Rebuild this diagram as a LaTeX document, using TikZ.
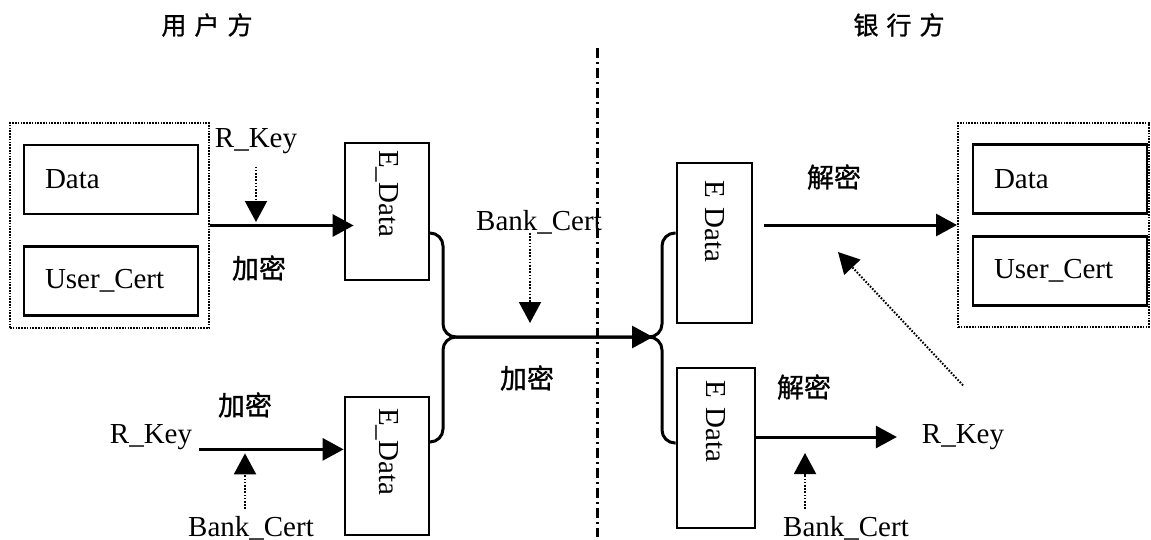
\documentclass[tikz,border=0pt]{standalone}
\usepackage{fontspec}
\setmainfont{Liberation Serif}
\newfontfamily\cjk[FakeBold=1]{Noto Sans CJK SC}
\usetikzlibrary{arrows.meta,calc}

\tikzset{
  box/.style={draw,line width=1.4pt,minimum width=87pt,minimum height=34.5pt,
    text width=66pt,inner xsep=10.5pt,align=left},
  grp/.style={draw,line width=1pt,dash pattern=on 0.8pt off 0.6pt},
  ebox/.style={draw,line width=1.4pt,rotate=-90,align=left},
  conn/.style={line width=1.5pt,rounded corners=6.5pt},
  flow/.style={line width=1.5pt,-{Triangle[length=10.5pt,width=11pt]}},
  hint/.style={line width=1pt,dash pattern=on 0.8pt off 0.8pt,
    -{Triangle[length=10.5pt,width=11pt]}},
  cn/.style={font=\cjk\fontsize{13.5}{16}\selectfont},
  head/.style={font=\cjk\fontsize{12.5}{15}\selectfont},
  divider/.style={line width=1.5pt,dash pattern=on 5pt off 2pt on 1pt off 2pt}
}

\begin{document}
\begin{tikzpicture}[x=0.5pt,y=-0.5pt,font=\fontsize{14.5}{17}\selectfont]
  \useasboundingbox (0,0) rectangle (1151,540);

  % headings and the border between the two sides
  \node[head] (uhead) at (207,25) {用\hspace{4pt}户\hspace{4pt}方};
  \node[head] (bhead) at (899,25) {银\hspace{4pt}行\hspace{4pt}方};
  \draw[divider] (597,48) -- (597,537);

  % user side
  \node[grp,minimum width=99.5pt,minimum height=102.5pt] (user) at (109.5,225.5) {};
  \node[box] (udata) at (111,179.5) {Data};
  \node[box] (ucert) at (111,281) {User\_Cert};
  \node[ebox,minimum height=42pt,inner xsep=3.5pt,text width=61.5pt] (ue1) at (387,211.5) {E\_Data};
  \node[ebox,minimum height=42pt,inner xsep=5.5pt,text width=58pt] (ue2) at (387,466) {E\_Data};
  \node (rk0) at (256,141) {R\_Key};
  \node[cn] (enc0) at (259,268) {加密};
  \node (rk1) at (151,437) {R\_Key};
  \node[cn] (enc1) at (245,405) {加密};
  \node (bc1) at (251,528) {Bank\_Cert};
  \node (bc0) at (539,222) {Bank\_Cert};
  \node[cn] (enc2) at (527,378) {加密};

  % bank side
  \node[grp,minimum width=95.5pt,minimum height=102pt] (bank) at (1053.5,225) {};
  \node[box] (bdata) at (1060,179) {Data};
  \node[box] (bcert) at (1060,271) {User\_Cert};
  \node[ebox,minimum height=37.5pt,inner xsep=8.5pt,text width=63pt] (be1) at (714.5,243) {E Data};
  \node[ebox,minimum height=39pt,inner xsep=6pt,text width=68pt] (be2) at (716,448) {E Data};
  \node[cn] (dec0) at (834,177) {解密};
  \node[cn] (dec1) at (804,387) {解密};
  \node (rk2) at (963,437) {R\_Key};
  \node (bc2) at (846,528) {Bank\_Cert};

  \coordinate (join) at (443,337);
  \coordinate (mid) at (653,337);
  \coordinate (fork) at (639,337);
  \coordinate (split) at (662,337);
  \coordinate (aim) at (838,252);
  \coordinate (k1) at ([yshift=-3pt]rk1.base east);

  % encrypt on the user side
  \draw[flow,shorten >=-5pt] (user.east) -- (ue1.south |- user.east);
  \draw[hint,shorten <=3pt,shorten >=1.75pt] (rk0.south) -- (rk0.south |- user.east);
  \draw[flow] (k1) -- (ue2.south |- k1);
  \draw[hint,shorten >=2pt] ([xshift=-3pt]bc1.north) -- ([xshift=-3pt]bc1.north |- k1);

  % send to the bank
  \draw[conn] ($(ue2.north)+(0,-24)$) -| (join) -- (mid);
  \draw[conn,flow] ($(ue1.north)+(0,21.5)$) -| (join) -- (mid);
  \draw[hint,shorten <=-4pt,shorten >=7pt] ([xshift=-4.5pt]bc0.south) -- ([xshift=-4.5pt]bc0.south |- join);
  \draw[conn] (fork) -- (split) |- ($(be1.south)+(0,-10)$);
  \draw[conn] (fork) -- (split) |- ($(be2.south)+(0,-5)$);

  % decrypt on the bank side
  \draw[flow,shorten <=5.5pt] (be1.north |- bank.west) -- (bank.west);
  \draw[flow,shorten >=9pt] (be2.north |- rk2) -- (rk2.west);
  \draw[hint,shorten >=8pt] ([xshift=-20.5pt]bc2.north) -- ([xshift=-20.5pt]bc2.north |- rk2);
  \draw[hint] ([yshift=16pt]rk2.north) -- (aim);
\end{tikzpicture}
\end{document}
